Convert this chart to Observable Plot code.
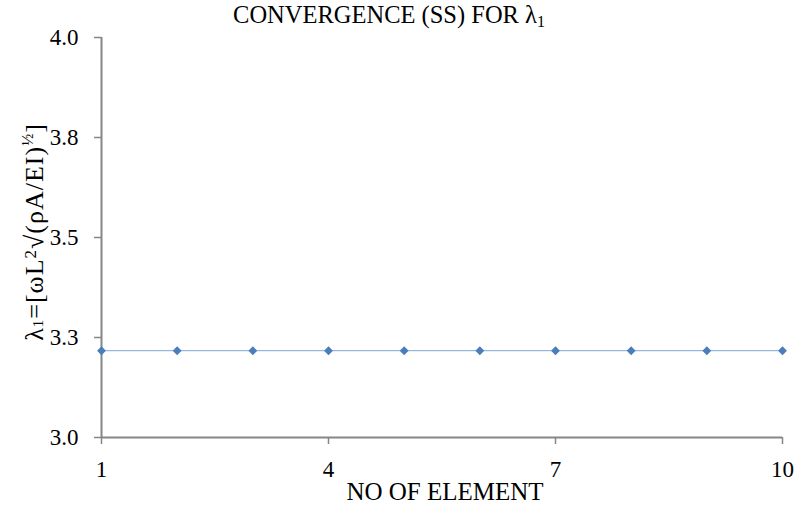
<!DOCTYPE html>
<html>
<head>
<meta charset="utf-8">
<script src="https://cdn.jsdelivr.net/npm/d3@7"></script>
<script src="https://cdn.jsdelivr.net/npm/@observablehq/plot@0.6"></script>
<style>
  html, body { margin: 0; padding: 0; background: #fff; }
  svg, svg text { font-family: "Liberation Serif", "Times New Roman", serif !important; }
</style>
</head>
<body>
<div id="chart"></div>
<script>
// Number of elements used in the model
const elements = [1, 2, 3, 4, 5, 6, 7, 8, 9, 10];
// First non-dimensional frequency parameter λ1 for the simply supported beam
const lambda1 = [3.217, 3.217, 3.217, 3.217, 3.217, 3.217, 3.217, 3.217, 3.217, 3.217];

const xTicks = [1, 4, 7, 10];
const yTicks = [3.0, 3.25, 3.5, 3.75, 4.0];
const yTickLabels = ["3.0", "3.3", "3.5", "3.8", "4.0"];

const data = elements.map((n, i) => ({n, v: lambda1[i]}));
const axisGray = "#868686";
const serif = "'Liberation Serif', 'Times New Roman', serif";

const svg = Plot.plot({
  width: 795,
  height: 510,
  marginLeft: 101,
  marginRight: 13,
  marginTop: 37,
  marginBottom: 73,
  style: {background: "#fff", fontFamily: serif, fontSize: "23px", color: "#000"},
  x: {domain: [1, 10]},
  y: {domain: [3, 4]},
  marks: [
    Plot.axisX({ticks: xTicks, tickSize: 7, tickPadding: 16, stroke: axisGray, strokeWidth: 1.5, fill: "#000", label: null, tickFormat: d => String(d)}),
    Plot.axisY({ticks: yTicks, tickSize: 7, tickPadding: 16, stroke: axisGray, strokeWidth: 1.5, fill: "#000", label: null,
      tickFormat: d => yTickLabels[yTicks.indexOf(d)]}),
    Plot.ruleY([3], {stroke: axisGray, strokeWidth: 2}),
    Plot.ruleX([1], {stroke: axisGray, strokeWidth: 2}),
    Plot.line(data, {x: "n", y: "v", stroke: "#7DA5D9", strokeWidth: 1}),
    Plot.dot(data, {x: "n", y: "v", symbol: "diamond2", r: 4, fill: "#4A7EBB", stroke: "none"})
  ]
});

const s = d3.select(svg);

// Chart title
const title = s.append("text")
  .attr("x", 389).attr("y", 23)
  .attr("text-anchor", "middle")
  .attr("font-family", serif)
  .attr("font-size", 24.5)
  .attr("fill", "#000");
title.append("tspan").text("CONVERGENCE (SS) FOR λ");
title.append("tspan").attr("font-size", 16).attr("dy", 4).text("1");

// X axis title
s.append("text")
  .attr("x", 445).attr("y", 500)
  .attr("text-anchor", "middle")
  .attr("font-family", serif)
  .attr("font-size", 25)
  .attr("fill", "#000")
  .text("NO OF ELEMENT");

// Y axis title
const ylab = s.append("text")
  .attr("transform", "translate(43,232) rotate(-90)")
  .attr("text-anchor", "middle")
  .attr("font-family", serif)
  .attr("font-size", 26)
  .attr("letter-spacing", 1)
  .attr("fill", "#000");
ylab.append("tspan").text("λ");
ylab.append("tspan").attr("font-size", 15).text("1");
ylab.append("tspan").text("=[ωL");
ylab.append("tspan").attr("font-size", 17).attr("dy", -7).text("2");
ylab.append("tspan").attr("dy", 7).text("√(ρA/EI)");
ylab.append("tspan").attr("font-size", 16).attr("dy", -10).text("½");
ylab.append("tspan").attr("dy", 10).text("]");

document.getElementById("chart").appendChild(svg);
</script>
</body>
</html>
